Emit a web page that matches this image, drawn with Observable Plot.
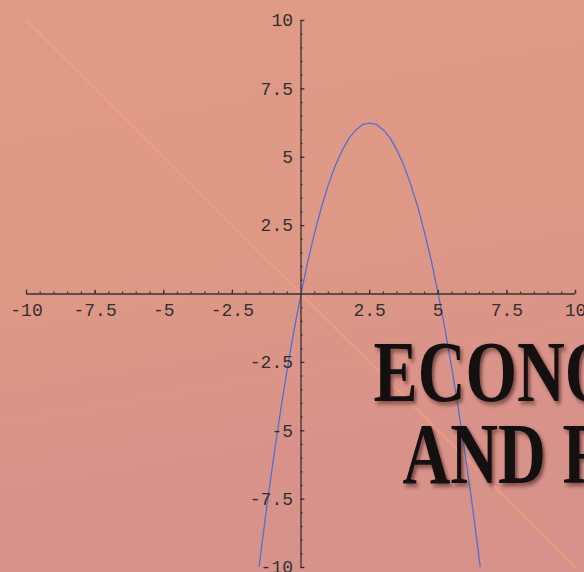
<!DOCTYPE html>
<html>
<head>
<meta charset="utf-8">
<script src="https://cdn.jsdelivr.net/npm/d3@7"></script>
<script src="https://cdn.jsdelivr.net/npm/@observablehq/plot@0.6"></script>
<style>
  html, body { margin: 0; padding: 0; background: #dd9786; }
  #chart svg { display: block; }
</style>
</head>
<body>
<div id="chart"></div>
<script>
// Parabola (blue curve)
const curveX = [-1.6, -1.5, -1.25, -1, -0.75, -0.5, -0.25, 0, 0.25, 0.5, 0.75, 1, 1.25, 1.5, 1.75, 2, 2.25, 2.5,
  2.75, 3, 3.25, 3.5, 3.75, 4, 4.25, 4.5, 4.75, 5, 5.25, 5.5, 5.75, 6, 6.25, 6.5, 6.6];
const curveY = [-10.56, -9.75, -7.8, -6, -4.3, -2.75, -1.3, 0, 1.2, 2.25, 3.2, 4, 4.7, 5.25, 5.7, 6, 6.2, 6.25,
  6.2, 6, 5.7, 5.25, 4.7, 4, 3.2, 2.25, 1.2, 0, -1.3, -2.75, -4.3, -6, -7.8, -9.75, -10.56];
// Straight line (orange)
const lineX = [-10, 10];
const lineY = [10, -10];
// Tick labels
const xTickValues = [-10, -7.5, -5, -2.5, 2.5, 5, 7.5, 10];
const xTickLabels = ["-10", "-7.5", "-5", "-2.5", "2.5", "5", "7.5", "10"];
const yTickValues = [10, 7.5, 5, 2.5, -2.5, -5, -7.5, -10];
const yTickLabels = ["10", "7.5", "5", "2.5", "-2.5", "-5", "-7.5", "-10"];
const titleLines = ["ECONOMIC", "AND FINANCIAL"];

const curve = curveX.map((x, i) => ({x, y: curveY[i]}));
const diag = lineX.map((x, i) => ({x, y: lineY[i]}));
const minor = d3.range(-10, 10.001, 0.5).filter(v => v !== 0);
const major = d3.range(-10, 10.001, 2.5).filter(v => v !== 0);
const axisColor = "#3a3232";

const chart = Plot.plot({
  width: 584,
  height: 572,
  marginLeft: 26,
  marginRight: 9,
  marginTop: 20,
  marginBottom: 5,
  x: {domain: [-10, 10], axis: null},
  y: {domain: [-10, 10], axis: null},
  style: {
    background: "linear-gradient(170deg, #e09b87 0%, #de9886 45%, #d8928a 75%, #d6928a 100%)",
    overflow: "hidden"
  },
  marks: [
    Plot.line(diag, {x: "x", y: "y", stroke: "#f3a07e", strokeWidth: 3, strokeOpacity: 0.6}),
    Plot.line(curve, {x: "x", y: "y", stroke: "#546fd2", strokeWidth: 1.3, clip: true}),
    Plot.ruleY([0], {x1: -10, x2: 10, stroke: axisColor, strokeWidth: 1.3}),
    Plot.ruleX([0], {y1: -10, y2: 10, stroke: axisColor, strokeWidth: 1.3}),
    // x-axis ticks (upward)
    Plot.ruleX(minor, {x: d => d, y1: 0, y2: 0.07, stroke: axisColor, strokeWidth: 1.3}),
    Plot.ruleX(major, {x: d => d, y1: 0, y2: 0.14, stroke: axisColor, strokeWidth: 1.3}),
    // y-axis ticks (rightward)
    Plot.ruleY(minor, {y: d => d, x1: 0, x2: 0.07, stroke: axisColor, strokeWidth: 1.3}),
    Plot.ruleY(major, {y: d => d, x1: 0, x2: 0.14, stroke: axisColor, strokeWidth: 1.3}),
    // tick labels
    Plot.text(xTickValues, {x: d => d, y: 0, text: (d, i) => xTickLabels[i], dy: 16,
      fontFamily: "Liberation Mono", fontSize: 18, fill: "#333030"}),
    Plot.text(yTickValues, {x: 0, y: d => d, text: (d, i) => yTickLabels[i], dx: -8, textAnchor: "end",
      fontFamily: "Liberation Mono", fontSize: 18, fill: "#333030"}),
    // cover title
    Plot.text([titleLines[0]], {frameAnchor: "top-left", text: d => d, dx: 347, dy: 380, lineAnchor: "bottom",
      textAnchor: "start", fontFamily: "Liberation Serif", fontWeight: "bold", fontSize: 86, fill: "#151010",
      className: "cover-title"}),
    Plot.text([titleLines[1]], {frameAnchor: "top-left", text: d => d, dx: 376, dy: 462, lineAnchor: "bottom",
      textAnchor: "start", fontFamily: "Liberation Serif", fontWeight: "bold", fontSize: 86, fill: "#151010",
      className: "cover-title2"})
  ]
});

// Condense the title glyphs and add the drop shadow
d3.select(chart).selectAll(".cover-title text, .cover-title2 text").each(function () {
  const t = d3.select(this);
  const tr = t.attr("transform") || "";
  t.attr("transform", tr + " scale(0.77,1)")
   .style("filter", "drop-shadow(3px 3px 2px rgba(50,15,15,0.55))");
});

document.getElementById("chart").appendChild(chart);
</script>
</body>
</html>
